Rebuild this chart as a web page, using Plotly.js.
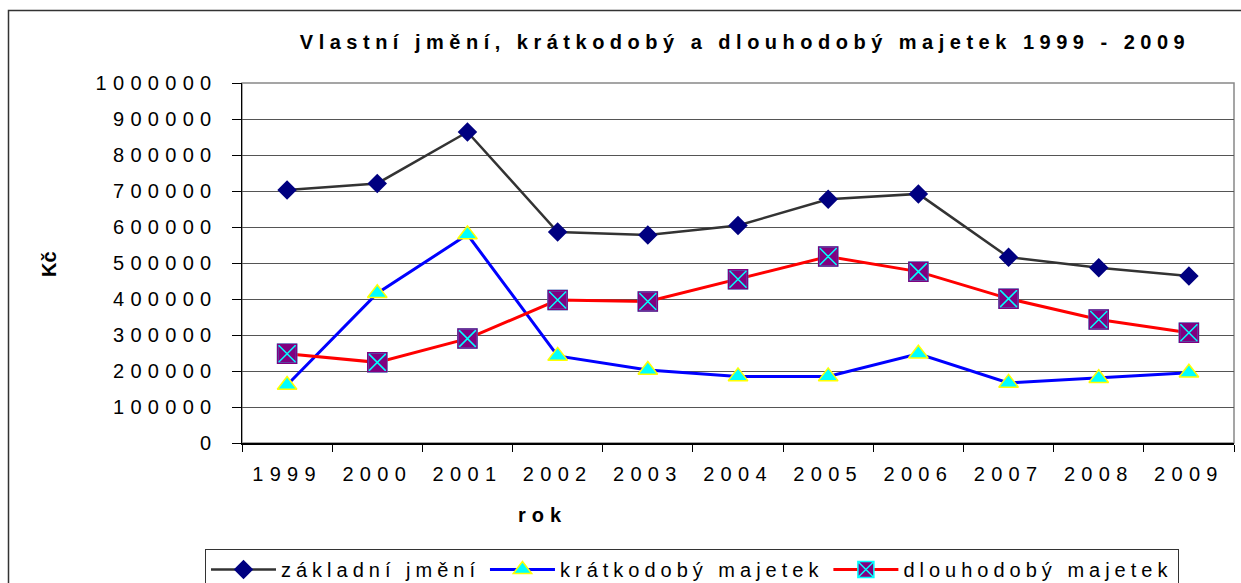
<!DOCTYPE html>
<html>
<head>
<meta charset="utf-8">
<script src="https://cdn.plot.ly/plotly-3.0.1.min.js"></script>
<style>
  html, body { margin: 0; padding: 0; background: #fff; }
  #chart { width: 1241px; height: 583px; }
  .gtitle { letter-spacing: 5.5px; }
  .xtick text, .ytick text { letter-spacing: 6.3px; }
  .legendtext { letter-spacing: 5px; }
  .annotation-text { letter-spacing: 6px; }
  .annotation[data-index="0"] .annotation-text { letter-spacing: 0px; }
</style>
</head>
<body>
<div id="chart"></div>
<script>
const years = ['1999','2000','2001','2002','2003','2004','2005','2006','2007','2008','2009'];
const zakladniJmeni = [703000, 721000, 864000, 586000, 578000, 604000, 677000, 692000, 516000, 487000, 464000];
const kratkodobyMajetek = [161000, 416000, 579000, 242000, 203000, 185000, 185000, 248000, 167000, 180000, 195000];
const dlouhodobyMajetek = [248000, 224000, 290000, 397000, 393000, 455000, 518000, 476000, 401000, 343000, 306000];
const seriesNames = ['základní jmění', 'krátkodobý majetek', 'dlouhodobý majetek'];
const yTicks = [0, 100000, 200000, 300000, 400000, 500000, 600000, 700000, 800000, 900000, 1000000];

const FONT = 'Arial, "Liberation Sans", sans-serif';

const traces = [
  {
    x: years, y: zakladniJmeni, name: seriesNames[0], type: 'scatter', mode: 'lines+markers',
    line: { color: '#333333', width: 2.5 },
    marker: { symbol: 'diamond', size: 15, color: '#000080', line: { width: 0 } }
  },
  {
    x: years, y: kratkodobyMajetek, name: seriesNames[1], type: 'scatter', mode: 'lines+markers',
    line: { color: '#0000FF', width: 3 },
    marker: { symbol: 'triangle-up', size: 17, color: '#00FFFF', line: { color: '#FFFF00', width: 1.5 } }
  },
  {
    x: years, y: dlouhodobyMajetek, name: seriesNames[2], type: 'scatter', mode: 'lines+markers',
    line: { color: '#FF0000', width: 3 },
    marker: { symbol: 'square-x', size: 19, color: '#800080', line: { color: '#00FFFF', width: 1.5 } }
  },
  {
    x: years, y: dlouhodobyMajetek, name: seriesNames[2], type: 'scatter', mode: 'markers',
    showlegend: false, hoverinfo: 'skip',
    marker: { symbol: 'square-open', size: 19, color: '#800080', line: { color: '#800080', width: 1.5 } }
  }
];

const layout = {
  width: 1241, height: 583,
  margin: { l: 242, r: 7, t: 83, b: 140, autoexpand: false },
  paper_bgcolor: '#ffffff', plot_bgcolor: '#ffffff',
  font: { family: FONT, size: 20, color: '#000000' },
  title: {
    text: '<b>Vlastní jmění, krátkodobý a dlouhodobý majetek 1999 - 2009</b>',
    font: { family: FONT, size: 20, color: '#000000' },
    x: 745 / 1241, xanchor: 'center', xref: 'container',
    y: 1 - 42 / 583, yanchor: 'middle', yref: 'container'
  },
  showlegend: true,
  legend: {
    orientation: 'h', x: (205 - 242) / 992, xanchor: 'left', y: (443 - 549) / 360, yanchor: 'top',
    bordercolor: '#333333', borderwidth: 1, bgcolor: '#ffffff',
    font: { family: FONT, size: 20, color: '#000000' },
    itemwidth: 65, traceorder: 'normal'
  },
  xaxis: {
    type: 'category', range: [-0.5, 10.5], tickson: 'boundaries',
    showgrid: false, zeroline: false,
    showline: true, linecolor: '#000000', linewidth: 1.5,
    ticks: 'outside', ticklen: 7, tickcolor: '#000000', tickwidth: 1,
    ticklabelstandoff: 12,
    tickfont: { family: FONT, size: 20, color: '#000000' },
    automargin: false, fixedrange: true
  },
  yaxis: {
    range: [0, 1000000], tickvals: yTicks, tickformat: 'd',
    showgrid: true, gridcolor: '#555555', gridwidth: 1, zeroline: false,
    showline: true, linecolor: '#000000', linewidth: 1.5,
    ticks: 'outside', ticklen: 9, tickcolor: '#000000', tickwidth: 1,
    ticklabelstandoff: 10,
    tickfont: { family: FONT, size: 20, color: '#000000' },
    automargin: false, fixedrange: true
  },
  annotations: [
    {
      text: '<b>Kč</b>', xref: 'paper', yref: 'paper', x: (49 - 242) / 992, y: (443 - 264) / 360,
      xanchor: 'center', yanchor: 'middle', textangle: -90, showarrow: false,
      font: { family: FONT, size: 20, color: '#000000' }
    },
    {
      text: '<b>rok</b>', xref: 'paper', yref: 'paper', x: (542 - 242) / 992, y: (443 - 515) / 360,
      xanchor: 'center', yanchor: 'middle', showarrow: false,
      font: { family: FONT, size: 20, color: '#000000' }
    }
  ],
  shapes: [
    {
      type: 'rect', xref: 'paper', yref: 'paper', x0: 0, x1: 1, y0: 0, y1: 1,
      line: { color: '#888888', width: 1.5 }, fillcolor: 'rgba(0,0,0,0)', layer: 'below'
    },
    {
      type: 'rect', xref: 'paper', yref: 'paper',
      x0: (8.5 - 242) / 992, x1: (1260 - 242) / 992, y0: (443 - 620) / 360, y1: (443 - 10.5) / 360,
      line: { color: '#333333', width: 1.5 }, fillcolor: 'rgba(0,0,0,0)', layer: 'below'
    }
  ],
  hovermode: false
};

Plotly.newPlot('chart', traces, layout, { displayModeBar: false, staticPlot: true });
</script>
</body>
</html>
